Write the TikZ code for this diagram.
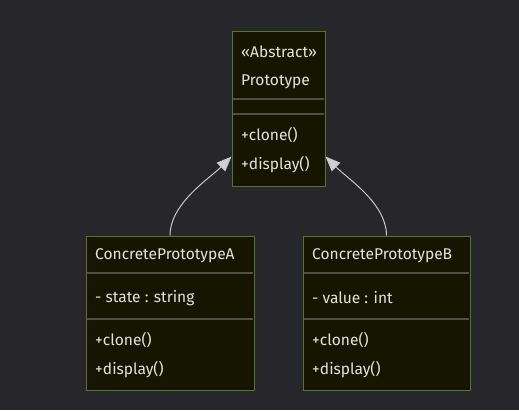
\documentclass[tikz,border=0pt]{standalone}
\usepackage{fontspec}
\setmainfont{Fira Sans}
\usetikzlibrary{arrows.meta}
\definecolor{bg}{HTML}{27262B}
\definecolor{boxfill}{HTML}{161600}
\definecolor{boxline}{HTML}{587522}
\definecolor{divline}{HTML}{4F4F45}
\definecolor{txt}{HTML}{E2E2E2}
\definecolor{edge}{HTML}{C8C8C8}
\begin{document}
\begin{tikzpicture}[x=1bp,y=-1bp,
  classbox/.style={draw=boxline,fill=boxfill,line width=1bp,minimum width=#1,inner sep=0pt},
  lbl/.style={text=txt,font=\fontsize{15.6}{18}\selectfont,anchor=west,inner sep=0pt},
  divider/.style={draw=divline,line width=1.3bp},
  inherit/.style={draw=edge,line width=1bp,-{Triangle[width=12bp,length=15bp,fill=edge!85!white]}}]
\fill[bg] (0,0) rectangle (519,410);
\useasboundingbox (0,0) rectangle (519,410);
% Prototype
\node[classbox=93bp,minimum height=155bp] (P) at (278.5,108.5) {};
\draw[divider] (233,99) -- (324,99);
\draw[divider] (233,114) -- (324,114);
\node[lbl] (p1) at (241,52) {«Abstract»};
\node[lbl] (p2) at (241,82) {Prototype};
\node[lbl] (p3) at (241,135) {+clone()};
\node[lbl] (p4) at (241,165) {+display()};
% ConcretePrototypeA
\node[classbox=168bp,minimum height=154bp] (A) at (170,313) {};
\draw[divider] (87,273) -- (253,273);
\draw[divider] (87,319) -- (253,319);
\node[lbl] (a1) at (95,256) {ConcretePrototypeA};
\node[lbl] (a2) at (95,298) {- state : string};
\node[lbl] (a3) at (95,340) {+clone()};
\node[lbl] (a4) at (95,370) {+display()};
% ConcretePrototypeB
\node[classbox=167bp,minimum height=154bp] (B) at (386.5,313) {};
\draw[divider] (304,273) -- (469,273);
\draw[divider] (304,319) -- (469,319);
\node[lbl] (b1) at (312,256) {ConcretePrototypeB};
\node[lbl] (b2) at (312,298) {- value : int};
\node[lbl] (b3) at (312,340) {+clone()};
\node[lbl] (b4) at (312,370) {+display()};
% inheritance
\draw[inherit] (A.north) .. controls +(0,-32) and +(-22,22) .. ([yshift=-48bp]P.west);
\draw[inherit] (B.north) .. controls +(0,-32) and +(22,22) .. ([yshift=-48bp]P.east);
\end{tikzpicture}
\end{document}
